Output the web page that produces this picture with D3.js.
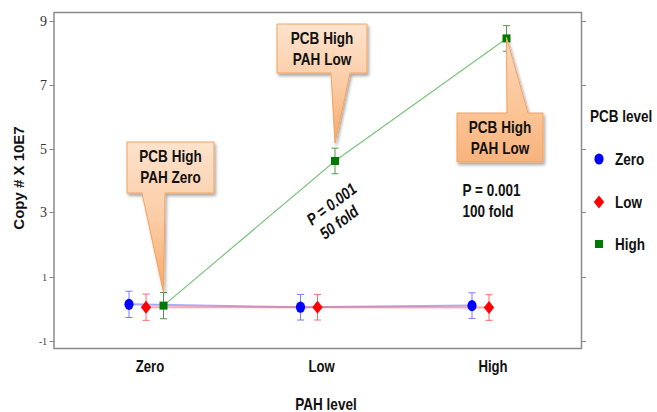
<!DOCTYPE html>
<html><head><meta charset="utf-8">
<script src="https://cdn.jsdelivr.net/npm/d3@7"></script>
<style>html,body{margin:0;padding:0;background:#fff;} svg{display:block;}</style>
</head><body><svg id="chart" width="657" height="412"></svg>
<script>
// PAH level on the x axis, one series per PCB level
const pahLevels = ["Zero", "Low", "High"];
const pcbLevels = ["Zero", "Low", "High"];
const meanPcbZero = [0.13, 0.04, 0.09];
const meanPcbLow = [0.04, 0.04, 0.03];
const meanPcbHigh = [0.09, 4.61, 8.44];
const errPcbZero = [0.41, 0.40, 0.40];
const errPcbLow = [0.41, 0.40, 0.40];
const errPcbHigh = [0.41, 0.40, 0.40];
const yTicks = [-1, 1, 3, 5, 7, 9];
const calloutLines = [["PCB High", "PAH Zero"], ["PCB High", "PAH Low"], ["PCB High", "PAH Low"]];
const statLines = [["P = 0.001", "50 fold"], ["P = 0.001", "100 fold"]];

const svg = d3.select("#chart");
const FONT = "'Liberation Sans', Arial, sans-serif";
const NARROW = 0.82;

const frame = {left: 54, right: 581.5, top: 12.5, bottom: 348.5};
const x = d3.scalePoint().domain(pahLevels).range([150, 493]);
const y = d3.scaleLinear().domain([-1.25, 9.25]).range([frame.bottom, frame.top]);

const series = [
  {name: pcbLevels[0], mean: meanPcbZero, err: errPcbZero, color: "#0000ff", line: "#6f6fff", bar: "#7a7aff", dx: -21, shape: "ellipse"},
  {name: pcbLevels[1], mean: meanPcbLow, err: errPcbLow, color: "#ff0000", line: "#ff7070", bar: "#ff6a6a", dx: -4, shape: "diamond"},
  {name: pcbLevels[2], mean: meanPcbHigh, err: errPcbHigh, color: "#007a00", line: "#7cc47c", bar: "#4f9a4f", dx: 13.5, shape: "square"}
];

// condensed bold text helper
function ctext(parent, tx, ty, str, size, anchor, extra) {
  const g = parent.append("g").attr("transform", `translate(${tx},${ty}) scale(${NARROW},1)`);
  const t = g.append("text").attr("x", 0).attr("y", 0)
    .attr("font-family", FONT).attr("font-weight", "bold").attr("font-size", size)
    .attr("fill", "#111").attr("text-anchor", anchor || "start").text(str);
  if (extra) extra(t);
  return g;
}

function marker(g, shape, cx, cy, color) {
  if (shape === "ellipse") {
    g.append("ellipse").attr("cx", cx).attr("cy", cy).attr("rx", 4.6).attr("ry", 5.6).attr("fill", color);
  } else if (shape === "diamond") {
    g.append("path").attr("d", `M${cx},${cy - 6.5}L${cx + 5.2},${cy}L${cx},${cy + 6.5}L${cx - 5.2},${cy}Z`).attr("fill", color);
  } else {
    g.append("rect").attr("x", cx - 4).attr("y", cy - 4).attr("width", 8).attr("height", 8).attr("fill", color);
  }
}

// defs: gradient and shadow for callouts
const defs = svg.append("defs");
const grad = defs.append("linearGradient").attr("id", "calloutFill").attr("x1", 0).attr("y1", 0).attr("x2", 0).attr("y2", 1);
grad.append("stop").attr("offset", "0%").attr("stop-color", "#fde3cd");
grad.append("stop").attr("offset", "55%").attr("stop-color", "#fbcaa2");
grad.append("stop").attr("offset", "100%").attr("stop-color", "#f7a865");
const grad2 = defs.append("linearGradient").attr("id", "calloutFill2").attr("x1", 0).attr("y1", 0).attr("x2", 0).attr("y2", 1);
grad2.append("stop").attr("offset", "0%").attr("stop-color", "#fcd7b8");
grad2.append("stop").attr("offset", "60%").attr("stop-color", "#fbc495");
grad2.append("stop").attr("offset", "100%").attr("stop-color", "#f8b37c");
const shadow = defs.append("filter").attr("id", "shadow").attr("x", "-20%").attr("y", "-20%").attr("width", "150%").attr("height", "150%");
shadow.append("feDropShadow").attr("dx", 1.5).attr("dy", 2.5).attr("stdDeviation", 1.8).attr("flood-color", "#000").attr("flood-opacity", 0.35);

// frame
svg.append("rect").attr("x", frame.left).attr("y", frame.top)
  .attr("width", frame.right - frame.left).attr("height", frame.bottom - frame.top)
  .attr("fill", "none").attr("stroke", "#8a8a8a").attr("stroke-width", 1.5);

// left axis ticks and labels
const yAxisL = svg.append("g");
yTicks.forEach(v => {
  const yy = Math.round(y(v)) + 0.5;
  yAxisL.append("line").attr("x1", frame.left - 4.5).attr("x2", frame.left).attr("y1", yy).attr("y2", yy)
    .attr("stroke", "#8a8a8a").attr("stroke-width", 1);
  const small = Math.abs(v) === 1;
  yAxisL.append("text").attr("x", 47).attr("y", yy).attr("dy", "0.35em")
    .attr("text-anchor", "end").attr("font-family", "'Liberation Serif', 'Times New Roman', serif")
    .attr("font-size", small ? 9.5 : 14).attr("fill", "#333").text(v);
});
// right axis ticks
yTicks.forEach(v => {
  const yy = Math.round(y(v)) + 0.5;
  svg.append("line").attr("x1", frame.right).attr("x2", frame.right + 4.5).attr("y1", yy).attr("y2", yy)
    .attr("stroke", "#8a8a8a").attr("stroke-width", 1);
});

// x category labels
pahLevels.forEach(c => ctext(svg, x(c), 372, c, 16, "middle"));

// axis titles
svg.append("text").attr("transform", "translate(23.5,178) rotate(-90)")
  .attr("text-anchor", "middle").attr("font-family", FONT).attr("font-weight", "bold")
  .attr("font-size", 15).attr("fill", "#111").text("Copy # X 10E7");
ctext(svg, 326, 410, "PAH level", 16.5, "middle");

// series lines, error bars, markers
const line = d3.line().x(d => d[0]).y(d => d[1]);
series.forEach(s => {
  const pts = pahLevels.map((c, i) => [x(c) + s.dx, y(s.mean[i])]);
  svg.append("path").attr("d", line(pts)).attr("fill", "none")
    .attr("stroke", s.line).attr("stroke-opacity", s.shape === "square" ? 1 : 0.6)
    .attr("stroke-width", s.shape === "square" ? 1.2 : 2);
});
series.forEach(s => {
  const g = svg.append("g");
  pahLevels.forEach((c, i) => {
    const cx = x(c) + s.dx;
    const top = y(s.mean[i] + s.err[i]), bot = y(s.mean[i] - s.err[i]);
    g.append("line").attr("x1", cx).attr("x2", cx).attr("y1", top).attr("y2", bot).attr("stroke", s.bar).attr("stroke-width", 1);
    g.append("line").attr("x1", cx - 3.5).attr("x2", cx + 3.5).attr("y1", top).attr("y2", top).attr("stroke", s.bar).attr("stroke-width", 1);
    g.append("line").attr("x1", cx - 3.5).attr("x2", cx + 3.5).attr("y1", bot).attr("y2", bot).attr("stroke", s.bar).attr("stroke-width", 1);
    marker(g, s.shape, cx, y(s.mean[i]), s.color);
  });
});

// callouts pointing at the PCB High series
const hi = series[2];
const callouts = [
  {box: [127, 142, 214, 193], base: [142, 165], tip: [x(pahLevels[0]) + hi.dx, y(hi.mean[0] + hi.err[0])], down: true, fill: "url(#calloutFill)"},
  {box: [277, 24, 367, 73], base: [331, 350], tip: [x(pahLevels[1]) + hi.dx, y(hi.mean[1] + hi.err[1]) - 5], down: true, fill: "url(#calloutFill)"},
  {box: [457, 113, 543, 162], base: [507, 528], tip: [x(pahLevels[2]) + hi.dx, y(hi.mean[2]) - 1], down: false, fill: "url(#calloutFill2)"}
];
callouts.forEach((c, k) => {
  const [x0, y0, x1, y1] = c.box;
  const [bL, bR] = c.base;
  const [tx, ty] = c.tip;
  const d = c.down
    ? `M${x0},${y0}H${x1}V${y1}H${bR}L${tx},${ty}L${bL},${y1}H${x0}Z`
    : `M${x0},${y0}H${bL}L${tx},${ty}L${bR},${y0}H${x1}V${y1}H${x0}Z`;
  svg.append("path").attr("d", d).attr("fill", c.fill).attr("stroke", "#f2a35f")
    .attr("stroke-width", 1).attr("filter", "url(#shadow)");
  const cx = (x0 + x1) / 2;
  ctext(svg, cx, y0 + 20, calloutLines[k][0], 16.5, "middle");
  ctext(svg, cx, y0 + 41, calloutLines[k][1], 16.5, "middle");
});

// significance notes
const rot = svg.append("g").attr("transform", "translate(312,226) rotate(-37)");
ctext(rot, 0, 0, statLines[0][0], 16.5, "start", t => t.attr("font-style", "italic"));
ctext(rot, 2, 19, statLines[0][1], 16.5, "start", t => t.attr("font-style", "italic"));
ctext(svg, 462.5, 196, statLines[1][0], 16.5, "start");
ctext(svg, 462.5, 217, statLines[1][1], 16.5, "start");

// legend
ctext(svg, 590, 122, "PCB level", 16.5, "start");
const legY = [159, 202, 244];
series.forEach((s, i) => {
  marker(svg, s.shape, 599, legY[i], s.color);
  ctext(svg, 615, legY[i] + 5.5, s.name, 16.5, "start");
});
</script></body></html>
